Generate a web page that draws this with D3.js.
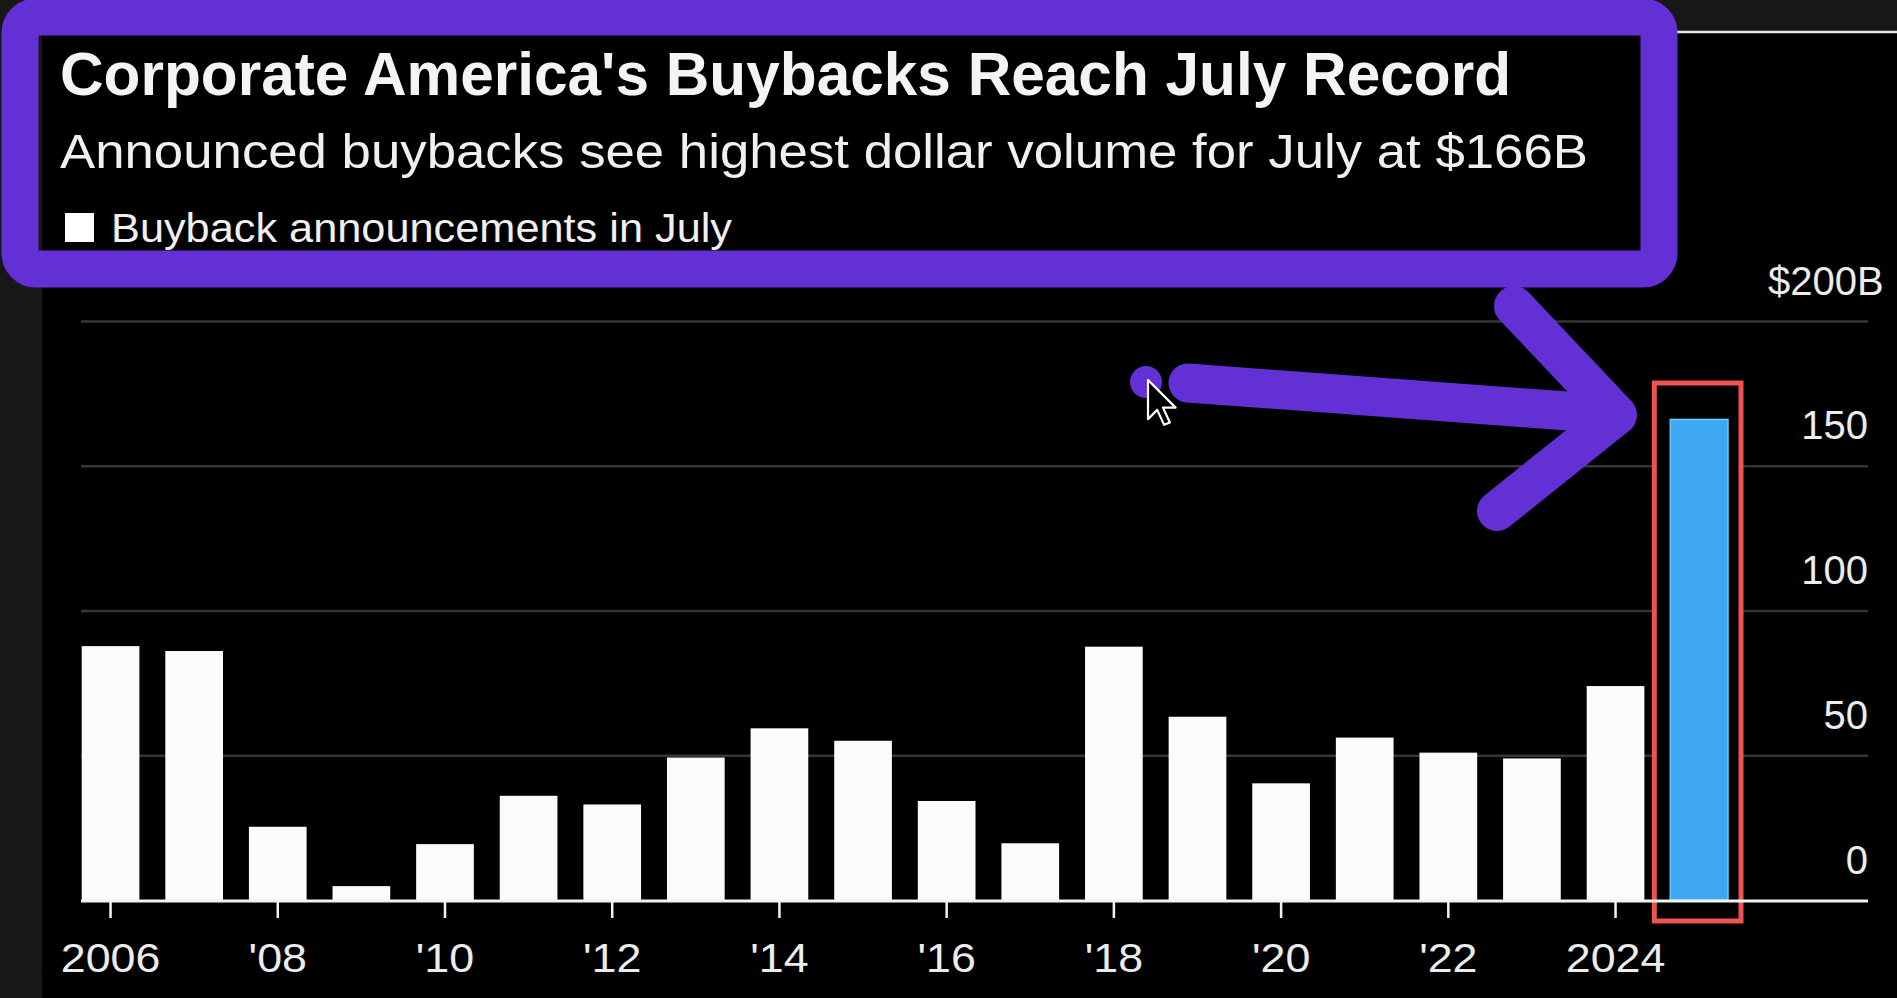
<!DOCTYPE html>
<html>
<head>
<meta charset="utf-8">
<script src="https://cdn.jsdelivr.net/npm/d3@7.9.0/dist/d3.min.js"></script>
<style>
  html, body { margin: 0; padding: 0; background: #171717; overflow: hidden; }
  svg { display: block; font-family: "Liberation Sans", Arial, Helvetica, sans-serif; }
</style>
</head>
<body>
<svg id="chart" width="1897" height="998"></svg>
<script>
// July buyback announcements, $B
const years = [2006, 2007, 2008, 2009, 2010, 2011, 2012, 2013, 2014, 2015,
               2016, 2017, 2018, 2019, 2020, 2021, 2022, 2023, 2024, 2025];
const buybacks = [87.7, 86.0, 25.3, 4.8, 19.3, 36.0, 33.0, 49.2, 59.3, 55.0,
                  34.2, 19.6, 87.5, 63.3, 40.3, 56.1, 50.9, 48.9, 73.9, 166];
const tickYears = [2006, 2008, 2010, 2012, 2014, 2016, 2018, 2020, 2022, 2024];
const tickLabels = ["2006", "'08", "'10", "'12", "'14", "'16", "'18", "'20", "'22", "2024"];
const yTicks = [0, 50, 100, 150, 200];
const yTickLabels = ["0", "50", "100", "150", "$200B"];
const recordYear = 2025;

const title = "Corporate America's Buybacks Reach July Record";
const subtitle = "Announced buybacks see highest dollar volume for July at $166B";
const legendLabel = "Buyback announcements in July";

let data = years.map((d, i) => ({ year: d, value: buybacks[i] }));

let svg = d3.select("#chart");

// chart panel
svg.append("rect")
  .attr("x", 42).attr("y", 32)
  .attr("width", 1897 - 42).attr("height", 998 - 32)
  .attr("fill", "#000");
svg.append("line")
  .attr("x1", 42).attr("x2", 1897)
  .attr("y1", 32).attr("y2", 32)
  .attr("stroke", "#e6e6e6").attr("stroke-width", 2.5);

let x = d3.scaleBand()
  .domain(years)
  .range([81.7, 1728])
  .paddingInner(0.31)
  .paddingOuter(0);

let y = d3.scaleLinear()
  .domain([0, 200])
  .range([900, 321]);

const left = 81, right = 1868;

// gridlines + y labels
let yAxis = svg.append("g")
  .attr("transform", `translate(${left},0)`)
  .call(d3.axisRight(y).tickValues(yTicks).tickSize(right - left)
    .tickFormat((d, i) => yTickLabels[i]));
yAxis.select(".domain").remove();
yAxis.selectAll(".tick line")
  .attr("stroke", "#363636")
  .attr("stroke-width", 2.5)
  .attr("display", d => d === 0 ? "none" : null);
yAxis.selectAll(".tick text")
  .attr("x", d => d === 200 ? 1768 - left : right - left)
  .attr("y", -27)
  .attr("dy", null)
  .attr("text-anchor", d => d === 200 ? "start" : "end")
  .attr("fill", "#ececec")
  .attr("font-size", 40)
  .attr("font-family", "Liberation Sans, Arial, sans-serif");

// red highlight box behind the record bar
let rx = x(recordYear);
svg.append("rect")
  .attr("x", rx - 16).attr("y", 383)
  .attr("width", x.bandwidth() + 32 - 3).attr("height", 921 - 383)
  .attr("fill", "#000")
  .attr("stroke", "#ee5252")
  .attr("stroke-width", 5);

// bars
svg.append("g")
  .selectAll("rect")
  .data(data)
  .join("rect")
  .attr("x", d => x(d.year))
  .attr("y", d => y(d.value))
  .attr("width", x.bandwidth())
  .attr("height", d => y(0) - y(d.value))
  .attr("fill", d => d.year === recordYear ? "#3ea9f2" : "#fbfbfb")
  .attr("stroke", d => d.year === recordYear ? "#66ccfa" : "none")
  .attr("stroke-width", 1.5);

// baseline
svg.append("line")
  .attr("x1", left).attr("x2", right)
  .attr("y1", y(0) + 1).attr("y2", y(0) + 1)
  .attr("stroke", "#f2f2f2").attr("stroke-width", 3);

// x axis
let xAxis = svg.append("g")
  .attr("transform", `translate(0,${y(0) + 1})`)
  .call(d3.axisBottom(x).tickValues(tickYears).tickSize(17)
    .tickFormat((d, i) => tickLabels[i]));
xAxis.select(".domain").remove();
xAxis.selectAll(".tick line")
  .attr("stroke", "#f2f2f2")
  .attr("stroke-width", 2.5);
xAxis.selectAll(".tick text")
  .attr("y", 71)
  .attr("dy", null)
  .attr("fill", "#ececec")
  .attr("font-size", 40)
  .attr("font-family", "Liberation Sans, Arial, sans-serif")
  .attr("transform", "scale(1.12,1)");

// title block
svg.append("text")
  .attr("x", 60).attr("y", 95)
  .attr("fill", "#f4f4f4")
  .attr("font-size", 61)
  .attr("font-weight", "bold")
  .attr("textLength", 1451)
  .attr("lengthAdjust", "spacingAndGlyphs")
  .text(title);

svg.append("text")
  .attr("x", 60).attr("y", 168)
  .attr("fill", "#f0f0f0")
  .attr("font-size", 48)
  .attr("textLength", 1528)
  .attr("lengthAdjust", "spacingAndGlyphs")
  .text(subtitle);

svg.append("rect")
  .attr("x", 65).attr("y", 213)
  .attr("width", 29).attr("height", 29)
  .attr("fill", "#fff");
svg.append("text")
  .attr("x", 111).attr("y", 242)
  .attr("fill", "#f0f0f0")
  .attr("font-size", 40)
  .attr("textLength", 621)
  .attr("lengthAdjust", "spacingAndGlyphs")
  .text(legendLabel);

// purple annotation: box + arrow
const purple = "#6230d4";
svg.append("rect")
  .attr("x", 20).attr("y", 17)
  .attr("width", 1639).attr("height", 252)
  .attr("rx", 16)
  .attr("fill", "none")
  .attr("stroke", purple)
  .attr("stroke-width", 37);

svg.append("circle")
  .attr("cx", 1146).attr("cy", 382).attr("r", 16)
  .attr("fill", purple);

svg.append("path")
  .attr("d", "M1188,383 L1608,414")
  .attr("fill", "none")
  .attr("stroke", purple)
  .attr("stroke-width", 39)
  .attr("stroke-linecap", "round");

svg.append("path")
  .attr("d", "M1514,306 L1617,415 L1497,511")
  .attr("fill", "none")
  .attr("stroke", purple)
  .attr("stroke-width", 40)
  .attr("stroke-linecap", "round")
  .attr("stroke-linejoin", "round");

// mouse pointer
const pointer = [[0, 0], [0, 17], [4, 13], [7, 19.5], [9.5, 18.5], [6.5, 12], [12, 12]];
svg.append("path")
  .attr("d", d3.line()(pointer.map(p => [1148 + p[0] * 2.3, 380 + p[1] * 2.3])) + "Z")
  .attr("fill", "#000")
  .attr("stroke", "#fff")
  .attr("stroke-width", 2.2)
  .attr("stroke-linejoin", "round");
</script>
</body>
</html>
